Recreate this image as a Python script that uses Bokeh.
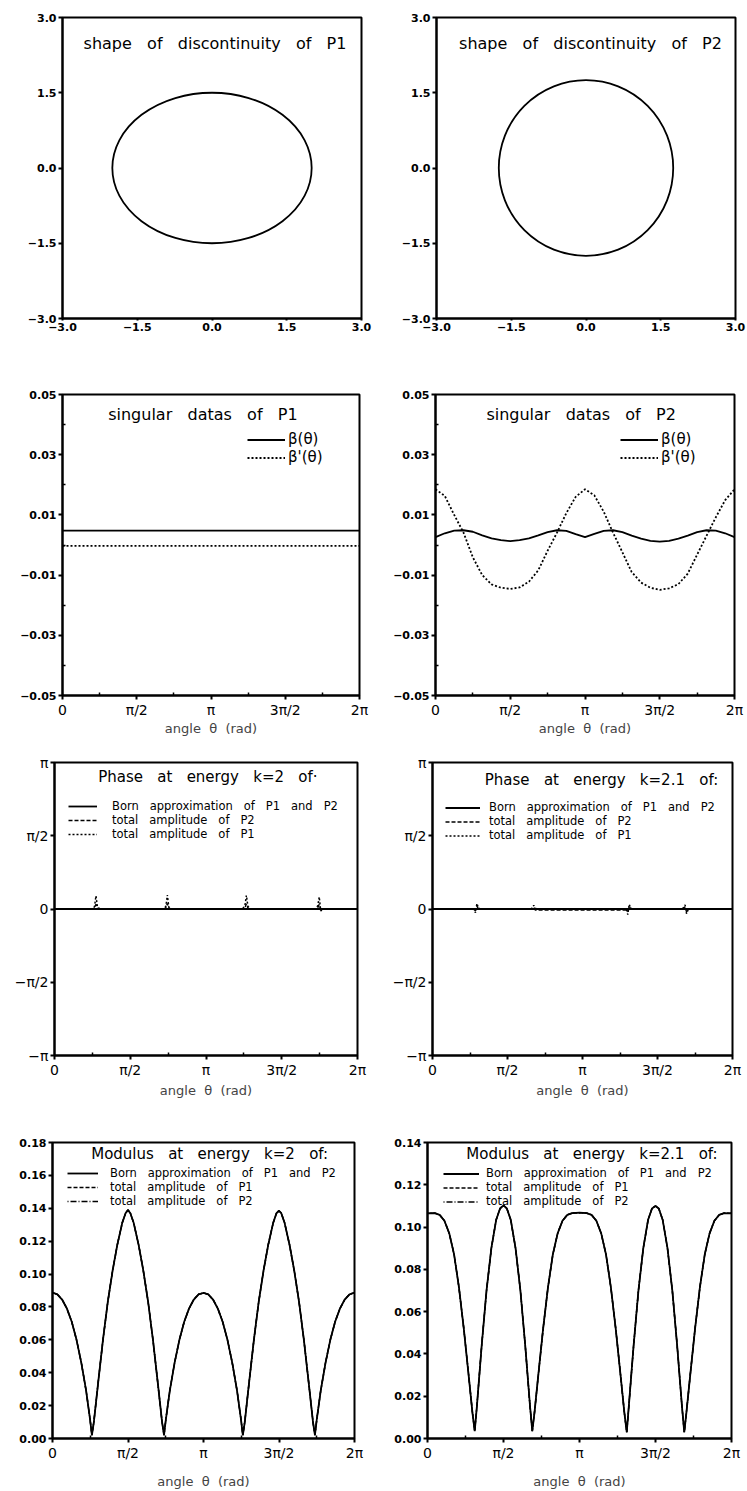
import math
from bokeh.plotting import figure
from bokeh.layouts import column, row
from bokeh.models import FixedTicker, Legend, LegendItem, Label
from bokeh.embed import file_html
from bokeh.resources import INLINE

FONT = "DejaVu Sans"
PI = math.pi
W3 = " \u00a0 "   # wide word gap (3 spaces) as in the original lettering
W2 = " \u00a0"    # double word gap

# ---------------- data ----------------
# shapes of discontinuity (centre, full axis lengths)
p1_centre_x = [0.0]
p1_centre_y = [0.0]
p1_axis_x = [4.0]
p1_axis_y = [3.0]
p2_centre_x = [0.0]
p2_centre_y = [0.0]
p2_axis_x = [3.5]
p2_axis_y = [3.5]
shape_ticks = [-3.0, -1.5, 0.0, 1.5, 3.0]
shape_tick_labels = ["\u22123.0", "\u22121.5", "0.0", "1.5", "3.0"]

# angle axis
angle_ticks = [0.0, PI / 2, PI, 3 * PI / 2, 2 * PI]
angle_tick_labels = ["0", "\u03c0/2", "\u03c0", "3\u03c0/2", "2\u03c0"]
angle_minor = [PI / 4, 3 * PI / 4, 5 * PI / 4, 7 * PI / 4]

# singular data of P1 (constant)
sing1_theta = [0.0, 6.283]
sing1_beta = [0.0048, 0.0048]
sing1_dbeta = [-0.0003, -0.0003]

# singular data of P2
sing2_theta = [0.000, 0.196, 0.393, 0.589, 0.785, 0.982, 1.178, 1.374, 1.571,
               1.767, 1.963, 2.160, 2.356, 2.553, 2.749, 2.945, 3.142, 3.338,
               3.534, 3.731, 3.927, 4.123, 4.320, 4.516, 4.712, 4.909, 5.105,
               5.301, 5.498, 5.694, 5.890, 6.087, 6.283]
sing2_beta = [0.0026, 0.0039, 0.0048, 0.0049, 0.0044, 0.0032, 0.0022, 0.0016,
              0.0013, 0.0016, 0.0022, 0.0032, 0.0043, 0.0049, 0.0047, 0.0036,
              0.0026, 0.0037, 0.0047, 0.0049, 0.0043, 0.0031, 0.0021, 0.0014,
              0.0011, 0.0014, 0.0021, 0.0031, 0.0043, 0.0049, 0.0048, 0.0039,
              0.0026]
sing2_dbeta = [0.0185, 0.0163, 0.0100, 0.0041, -0.0041, -0.0100, -0.0131,
               -0.0142, -0.0146, -0.0141, -0.0122, -0.0084, -0.0019, 0.0041,
               0.0106, 0.0160, 0.0185, 0.0165, 0.0111, 0.0041, -0.0024,
               -0.0090, -0.0125, -0.0142, -0.0149, -0.0144, -0.0130, -0.0095,
               -0.0032, 0.0030, 0.0092, 0.0149, 0.0185]
sing_ticks = [0.05, 0.03, 0.01, -0.01, -0.03, -0.05]
sing_tick_labels = ["0.05", "0.03", "0.01", "\u22120.01", "\u22120.03", "\u22120.05"]
sing_minor = [0.04, 0.02, 0.0, -0.02, -0.04]

# phase at k=2
phase_ticks = [-PI, -PI / 2, 0.0, PI / 2, PI]
phase_tick_labels = ["\u2212\u03c0", "\u2212\u03c0/2", "0", "\u03c0/2", "\u03c0"]
ph2_born_theta = [0.0, 6.283]
ph2_born = [0.0, 0.0]
ph2_theta = [0.0, 0.78, 0.83, 0.86, 0.89, 0.94, 2.27, 2.31, 2.34, 2.37, 2.42,
             3.90, 3.95, 3.98, 4.01, 4.06, 5.41, 5.46, 5.49, 5.52, 5.58, 6.283]
ph2_total_P2 = [0.0, 0.0, 0.02, 0.10, 0.02, 0.0, 0.0, 0.03, 0.12, 0.02, 0.0,
                0.0, 0.03, 0.11, 0.02, 0.0, 0.0, 0.03, 0.10, -0.02, 0.0, 0.0]
ph2_total_P1 = [0.0, 0.0, 0.05, 0.28, 0.05, 0.0, 0.0, 0.06, 0.30, 0.04, 0.0,
                0.0, 0.08, 0.29, 0.06, 0.0, 0.0, 0.07, 0.26, -0.04, 0.0, 0.0]

# phase at k=2.1
ph21_born_theta = [0.0, 6.283]
ph21_born = [0.0, 0.0]
ph21_theta = [0.0, 0.86, 0.90, 0.93, 0.96, 1.00, 2.06, 2.09, 2.12, 2.15, 2.19,
              4.06, 4.09, 4.12, 4.15, 4.19, 5.23, 5.26, 5.29, 5.32, 5.36, 6.283]
ph21_total_P2 = [0.0, 0.0, -0.04, 0.06, 0.01, 0.0, 0.0, 0.01, 0.04, -0.02, -0.02,
                 -0.02, -0.06, 0.05, 0.01, 0.0, 0.0, 0.02, 0.05, -0.06, 0.0, 0.0]
ph21_total_P1 = [0.0, 0.0, -0.08, 0.12, 0.03, 0.0, 0.0, 0.02, 0.08, 0.02, 0.0,
                 0.0, -0.12, 0.10, 0.02, 0.0, 0.0, 0.03, 0.09, -0.10, 0.0, 0.0]

# modulus at k=2 (Born approximation; total amplitudes coincide)
mod2_theta = [0.00, 0.10, 0.20, 0.30, 0.40, 0.50, 0.60, 0.70, 0.78, 0.82, 0.86,
              0.95, 1.05, 1.15, 1.25, 1.35, 1.45, 1.52, 1.571, 1.62, 1.69, 1.79,
              1.89, 1.99, 2.09, 2.19, 2.28, 2.32, 2.36, 2.44, 2.54, 2.64, 2.74,
              2.84, 2.94, 3.04, 3.142, 3.24, 3.34, 3.44, 3.54, 3.64, 3.74, 3.84,
              3.92, 3.96, 4.00, 4.09, 4.19, 4.29, 4.39, 4.49, 4.59, 4.66, 4.712,
              4.76, 4.83, 4.93, 5.03, 5.13, 5.23, 5.33, 5.42, 5.46, 5.50, 5.58,
              5.68, 5.78, 5.88, 5.98, 6.08, 6.18, 6.283]
mod2_born = [0.0887, 0.0877, 0.0845, 0.0790, 0.0710, 0.0600, 0.0460, 0.0290,
             0.0120, 0.0020, 0.0100, 0.0340, 0.0600, 0.0830, 0.1020, 0.1180,
             0.1310, 0.1370, 0.1390, 0.1370, 0.1310, 0.1180, 0.1020, 0.0830,
             0.0600, 0.0340, 0.0100, 0.0020, 0.0120, 0.0290, 0.0460, 0.0600,
             0.0710, 0.0790, 0.0845, 0.0877, 0.0885, 0.0877, 0.0845, 0.0790,
             0.0710, 0.0600, 0.0460, 0.0290, 0.0120, 0.0020, 0.0100, 0.0340,
             0.0600, 0.0830, 0.1020, 0.1180, 0.1310, 0.1370, 0.1385, 0.1370,
             0.1310, 0.1180, 0.1020, 0.0830, 0.0600, 0.0340, 0.0100, 0.0020,
             0.0120, 0.0290, 0.0460, 0.0600, 0.0710, 0.0790, 0.0845, 0.0877,
             0.0887]
mod2_ticks = [0.00, 0.02, 0.04, 0.06, 0.08, 0.10, 0.12, 0.14, 0.16, 0.18]
mod2_tick_labels = ["0.00", "0.02", "0.04", "0.06", "0.08", "0.10", "0.12",
                    "0.14", "0.16", "0.18"]

# modulus at k=2.1
mod21_theta = [0.00, 0.15, 0.25, 0.35, 0.45, 0.55, 0.65, 0.75, 0.85, 0.93, 0.976,
               1.02, 1.12, 1.22, 1.32, 1.42, 1.50, 1.571, 1.64, 1.72, 1.82, 1.92,
               2.02, 2.12, 2.166, 2.21, 2.29, 2.39, 2.49, 2.59, 2.69, 2.79, 2.89,
               2.99, 3.142, 3.29, 3.39, 3.49, 3.59, 3.69, 3.79, 3.89, 3.99, 4.07,
               4.118, 4.16, 4.26, 4.36, 4.46, 4.56, 4.64, 4.712, 4.78, 4.86, 4.96,
               5.06, 5.16, 5.26, 5.307, 5.35, 5.43, 5.53, 5.63, 5.73, 5.83, 5.93,
               6.03, 6.13, 6.283]
mod21_born = [0.1065, 0.1066, 0.1058, 0.1030, 0.0970, 0.0870, 0.0715, 0.0520,
              0.0300, 0.0120, 0.0035, 0.0150, 0.0440, 0.0700, 0.0900, 0.1035,
              0.1088, 0.1103, 0.1088, 0.1035, 0.0900, 0.0700, 0.0440, 0.0150,
              0.0035, 0.0120, 0.0300, 0.0520, 0.0715, 0.0870, 0.0970, 0.1030,
              0.1058, 0.1066, 0.1068, 0.1066, 0.1058, 0.1030, 0.0970, 0.0870,
              0.0715, 0.0520, 0.0300, 0.0120, 0.0030, 0.0150, 0.0440, 0.0700,
              0.0900, 0.1035, 0.1088, 0.1100, 0.1088, 0.1035, 0.0900, 0.0700,
              0.0440, 0.0150, 0.0030, 0.0120, 0.0300, 0.0520, 0.0715, 0.0870,
              0.0970, 0.1030, 0.1058, 0.1066, 0.1065]
mod21_ticks = [0.00, 0.02, 0.04, 0.06, 0.08, 0.10, 0.12, 0.14]
mod21_tick_labels = ["0.00", "0.02", "0.04", "0.06", "0.08", "0.10", "0.12", "0.14"]

ANGLE_LABEL = "angle" + W2 + "\u03b8" + W2 + "(rad)"


def spaced(words, gap):
    return gap.join(words)


# ---------------- helpers ----------------
def make_fig(w, h, left, top, fw, fh, xr, yr):
    p = figure(width=w, height=h, x_range=xr, y_range=yr,
               output_backend="svg", toolbar_location=None,
               min_border_left=left, min_border_top=top,
               min_border_right=w - left - fw, min_border_bottom=h - top - fh)
    p.grid.visible = False
    p.outline_line_color = "black"
    p.outline_line_width = 2
    p.outline_line_alpha = 1
    p.background_fill_color = "white"
    p.border_fill_color = "white"
    return p


def style_axis(ax, ticks, labels, minor, size, bold):
    ax.ticker = FixedTicker(ticks=ticks, minor_ticks=minor)
    ax.major_label_overrides = {t: l for t, l in zip(ticks, labels)}
    ax.axis_line_width = 2
    ax.major_tick_line_width = 2
    ax.major_tick_out = 4
    ax.major_tick_in = 0
    ax.minor_tick_line_width = 1.5
    ax.minor_tick_in = 3
    ax.minor_tick_out = 0
    ax.major_label_text_font = FONT
    ax.major_label_text_font_size = size
    ax.major_label_text_font_style = "bold" if bold else "normal"
    ax.major_label_text_color = "black"
    ax.major_label_standoff = 2


def angle_xaxis(p, label_standoff):
    style_axis(p.xaxis[0], angle_ticks, angle_tick_labels, angle_minor, "14px", False)
    p.xaxis.axis_label = ANGLE_LABEL
    p.xaxis.axis_label_text_font = FONT
    p.xaxis.axis_label_text_font_style = "normal"
    p.xaxis.axis_label_text_font_size = "13px"
    p.xaxis.axis_label_standoff = label_standoff


def title(p, x, y, text, size):
    p.add_layout(Label(x=x, y=y, text=text, text_align="center",
                       text_baseline="middle", text_font=FONT,
                       text_font_size=size, text_color="black"))


def legend(p, items, loc, glyph_w, standoff, lh, spacing, size):
    lg = Legend(items=[LegendItem(label=l, renderers=[r]) for l, r in items],
                location=loc, orientation="vertical", glyph_width=glyph_w,
                glyph_height=lh, label_height=lh, label_standoff=standoff,
                spacing=spacing, padding=0, margin=0,
                border_line_alpha=0, background_fill_alpha=0,
                label_text_font=FONT, label_text_font_size=size,
                label_text_color="black")
    p.add_layout(lg)


LW = 1.8

# ---------------- row 1: shapes ----------------
def shape_fig(w, left, cx, cy, ax_x, ax_y, text, tx):
    p = make_fig(w, 338, left, 17, 299, 301, (-3, 3), (-3, 3))
    style_axis(p.xaxis[0], shape_ticks, shape_tick_labels, [], "11px", True)
    style_axis(p.yaxis[0], shape_ticks, shape_tick_labels, [], "11px", True)
    p.xaxis.major_tick_out = 2
    p.ellipse(x=cx, y=cy, width=ax_x, height=ax_y, fill_alpha=0,
              line_color="black", line_width=LW)
    title(p, tx, 2.48, text, "16px")
    return p

f1 = shape_fig(373, 62, p1_centre_x, p1_centre_y, p1_axis_x, p1_axis_y,
               spaced(["shape", "of", "discontinuity", "of", "P1"], W3), 0.06)
f2 = shape_fig(374, 63, p2_centre_x, p2_centre_y, p2_axis_x, p2_axis_y,
               spaced(["shape", "of", "discontinuity", "of", "P2"], W3), 0.09)

# ---------------- row 2: singular data ----------------
def sing_fig(w, left, fw, th, b, db, text, tx):
    p = make_fig(w, 400, left, 56, fw, 307, (0, 2 * PI), (-0.05, 0.05))
    angle_xaxis(p, 0)
    style_axis(p.yaxis[0], sing_ticks, sing_tick_labels, sing_minor, "11px", True)
    r1 = p.line(th, b, line_color="black", line_width=LW)
    r2 = p.line(th, db, line_color="black", line_width=LW, line_dash="2 2")
    title(p, tx, 0.0435, text, "16px")
    legend(p, [("\u03b2(\u03b8)", r1), ("\u03b2'(\u03b8)", r2)], (185, 229),
           38, 3, 15, 0, "15px")
    return p

f3 = sing_fig(373, 62, 297, sing1_theta, sing1_beta, sing1_dbeta,
              spaced(["singular", "datas", "of", "P1"], W3), 2.97)
f4 = sing_fig(374, 62, 299, sing2_theta, sing2_beta, sing2_dbeta,
              spaced(["singular", "datas", "of", "P2"], W3), 3.06)

# ---------------- row 3: phase ----------------
def phase_fig(w, left, fw, bt, bv, th, p2v, p1v, text, tx, ty, loc, gw, so, lh):
    p = make_fig(w, 362, left, 24, fw, 303, (0, 2 * PI), (-PI, PI))
    angle_xaxis(p, 2)
    style_axis(p.yaxis[0], phase_ticks, phase_tick_labels, [], "14px", False)
    r1 = p.line(bt, bv, line_color="black", line_width=LW)
    r2 = p.line(th, p2v, line_color="black", line_width=1.4, line_dash="4 2")
    r3 = p.line(th, p1v, line_color="black", line_width=1.5, line_dash="2 2")
    title(p, tx, ty, text, "15px")
    legend(p, [(spaced(["Born", "approximation", "of", "P1", "and", "P2"], W3), r1),
               (spaced(["total", "amplitude", "of", "P2"], W3), r2),
               (spaced(["total", "amplitude", "of", "P1"], W3), r3)],
           loc, gw, so, lh, 0, "11.5px")
    return p

f5 = phase_fig(373, 54, 303, ph2_born_theta, ph2_born, ph2_theta, ph2_total_P2,
               ph2_total_P1, spaced(["Phase", "at", "energy", "k=2", "of\u00b7"], W3),
               3.18, 2.837, (14, 214), 29, 15, 12)
f6 = phase_fig(374, 59, 300, ph21_born_theta, ph21_born, ph21_theta, ph21_total_P2,
               ph21_total_P1, spaced(["Phase", "at", "energy", "k=2.1", "of:"], W3),
               3.54, 2.775, (13, 213), 35, 9, 13)

# ---------------- row 4: modulus ----------------
def mod_fig(w, left, fw, th, born, ymax, ticks, labels, text, tx, ty, loc, gw, so, lh):
    p = make_fig(w, 391, left, 42, fw, 301, (0, 2 * PI), (0, ymax))
    angle_xaxis(p, 10)
    style_axis(p.yaxis[0], ticks, labels, [], "11px", True)
    r1 = p.line(th, born, line_color="black", line_width=LW)
    r2 = p.line(th, born, line_color="black", line_width=1.4, line_dash="4 2")
    r3 = p.line(th, born, line_color="black", line_width=1.4, line_dash="1 2 6 2")
    title(p, tx, ty, text, "15px")
    legend(p, [(spaced(["Born", "approximation", "of", "P1", "and", "P2"], W3), r1),
               (spaced(["total", "amplitude", "of", "P1"], W3), r2),
               (spaced(["total", "amplitude", "of", "P2"], W3), r3)],
           loc, gw, so, lh, 0, "11.5px")
    return p

f7 = mod_fig(373, 52, 302, mod2_theta, mod2_born, 0.18, mod2_ticks, mod2_tick_labels,
             spaced(["Modulus", "at", "energy", "k=2", "of:"], W3), 3.27, 0.1732,
             (15, 230), 31, 12, 12)
f8 = mod_fig(374, 54, 304, mod21_theta, mod21_born, 0.14, mod21_ticks, mod21_tick_labels,
             spaced(["Modulus", "at", "energy", "k=2.1", "of:"], W3), 3.40, 0.1344,
             (16, 230), 36, 7, 13)

layout = column(row(f1, f2), row(f3, f4), row(f5, f6), row(f7, f8))

with open("out.html", "w") as fh:
    fh.write(file_html(layout, INLINE))
